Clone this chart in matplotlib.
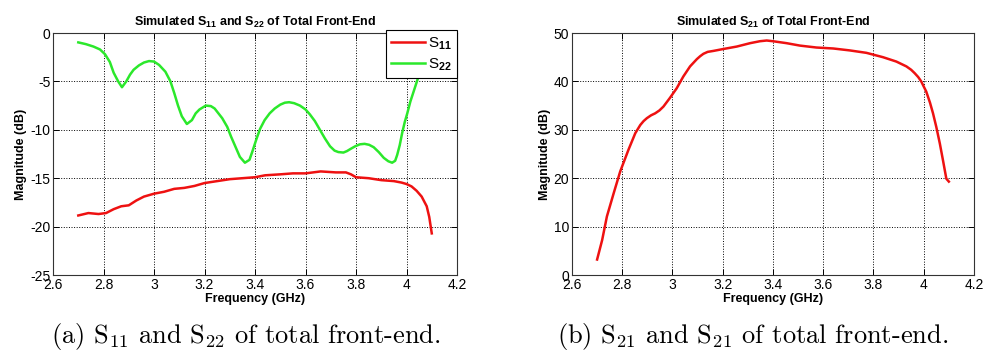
import numpy as np
import matplotlib
matplotlib.use("Agg")
import matplotlib.pyplot as plt
from matplotlib.ticker import FormatStrFormatter

plt.rcParams["font.family"] = ["Liberation Sans", "DejaVu Sans"]
plt.rcParams["axes.unicode_minus"] = False
plt.rcParams["mathtext.fontset"] = "custom"
plt.rcParams["mathtext.rm"] = "Liberation Sans:bold"
plt.rcParams["mathtext.it"] = "Liberation Sans:bold"
plt.rcParams["mathtext.bf"] = "Liberation Sans:bold"

# S11 (red, left panel)
f_s11 = [2.70, 2.74, 2.78, 2.81, 2.84, 2.87, 2.90, 2.93, 2.96, 3.00, 3.04, 3.08,
         3.12, 3.16, 3.20, 3.25, 3.30, 3.35, 3.40, 3.44, 3.50, 3.55, 3.60, 3.66,
         3.72, 3.76, 3.78, 3.80, 3.85, 3.90, 3.95, 3.98, 4.00, 4.02, 4.04, 4.06,
         4.08, 4.09, 4.10]
s11 = [-18.85, -18.6, -18.7, -18.6, -18.2, -17.9, -17.8, -17.3, -16.9, -16.6, -16.4, -16.1,
       -16.0, -15.8, -15.5, -15.3, -15.1, -15.0, -14.9, -14.7, -14.6, -14.5, -14.5, -14.3,
       -14.4, -14.4, -14.6, -14.9, -15.0, -15.2, -15.3, -15.45, -15.6, -15.85, -16.3, -16.9,
       -17.9, -19.0, -20.7]

# S22 (green, left panel)
f_s22 = [2.70, 2.73, 2.76, 2.786, 2.806, 2.825, 2.84, 2.858, 2.873, 2.89, 2.905, 2.919,
         2.94, 2.96, 2.98, 3.00, 3.02, 3.045, 3.065, 3.08, 3.095, 3.11, 3.13, 3.15,
         3.165, 3.18, 3.205, 3.225, 3.24, 3.27, 3.29, 3.305, 3.325, 3.34, 3.36, 3.378,
         3.39, 3.405, 3.42, 3.438, 3.458, 3.478, 3.50, 3.518, 3.535, 3.555, 3.578, 3.60,
         3.617, 3.637, 3.657, 3.677, 3.697, 3.715, 3.73, 3.75, 3.764, 3.78, 3.797,
         3.815, 3.834, 3.852, 3.87, 3.89, 3.91, 3.928, 3.943, 3.955, 3.963, 3.973,
         3.983, 3.993, 4.003, 4.015, 4.03, 4.05, 4.075, 4.10]
s22 = [-0.97, -1.15, -1.4, -1.7, -2.2, -3.0, -4.1, -5.0, -5.6, -5.0, -4.3, -3.8,
       -3.35, -3.05, -2.9, -2.95, -3.3, -4.0, -5.0, -6.2, -7.5, -8.6, -9.4, -9.0,
       -8.3, -7.9, -7.5, -7.55, -7.8, -8.8, -9.7, -10.7, -11.9, -12.8, -13.4, -13.1,
       -12.2, -11.0, -9.9, -9.0, -8.3, -7.8, -7.4, -7.2, -7.15, -7.25, -7.5, -7.9,
       -8.4, -9.1, -10.0, -10.9, -11.7, -12.15, -12.3, -12.35, -12.2, -11.95, -11.7,
       -11.5, -11.45, -11.55, -11.8, -12.3, -12.9, -13.25, -13.4, -13.2, -12.6, -11.6,
       -10.3, -9.2, -8.3, -7.1, -5.9, -4.3, -2.6, -1.2]

# S21 (red, right panel)
f_s21 = [2.70, 2.72, 2.739, 2.766, 2.792, 2.825, 2.852, 2.872, 2.885, 2.898, 2.915, 2.931,
         2.948, 2.964, 2.99, 3.017, 3.043, 3.07, 3.097, 3.11, 3.123, 3.14, 3.163, 3.203,
         3.256, 3.309, 3.348, 3.375, 3.40, 3.454, 3.507, 3.573, 3.64, 3.706, 3.772,
         3.838, 3.891, 3.931, 3.95, 3.964, 3.978, 3.99, 4.01, 4.025, 4.037, 4.05, 4.064,
         4.077, 4.09, 4.10]
s21 = [3.2, 7.2, 12.1, 16.9, 21.4, 25.9, 29.3, 31.0, 31.8, 32.4, 33.0, 33.4,
       34.0, 34.8, 36.6, 38.6, 41.0, 43.1, 44.6, 45.2, 45.7, 46.1, 46.3, 46.7,
       47.2, 47.9, 48.3, 48.45, 48.3, 47.9, 47.4, 47.0, 46.8, 46.4, 45.9,
       45.0, 44.1, 43.1, 42.4, 41.7, 40.9, 40.0, 37.9, 35.6, 33.4, 30.6, 27.2,
       23.6, 19.9, 19.3]

xticks = [2.6, 2.8, 3.0, 3.2, 3.4, 3.6, 3.8, 4.0, 4.2]
RED = "#ee1111"
GREEN = "#2be82b"


def style(ax, yticks):
    ax.set_xlim(2.6, 4.2)
    ax.set_xticks(xticks)
    ax.set_yticks(yticks)
    ax.set_ylim(yticks[0], yticks[-1])
    ax.xaxis.set_major_formatter(FormatStrFormatter("%g"))
    ax.grid(True, ls=":", color="k", lw=0.7)
    ax.tick_params(direction="in", top=True, right=True, length=4, width=0.7,
                   labelsize=10, pad=2)
    for s in ax.spines.values():
        s.set_linewidth(0.8)
        s.set_color("#333333")
    ax.set_xlabel("Frequency (GHz)", fontsize=9, fontweight="bold", labelpad=1)
    ax.set_ylabel("Magnitude (dB)", fontsize=9, fontweight="bold", labelpad=2)


fig = plt.figure(figsize=(9.86, 3.56), dpi=100)
ax1 = fig.add_axes([0.0538, 0.2275, 0.4097, 0.6798])
ax2 = fig.add_axes([0.5801, 0.2275, 0.4077, 0.6798])

ax1.plot(f_s11, s11, color=RED, lw=1.8, label="S$_{11}$")
ax1.plot(f_s22, s22, color=GREEN, lw=1.8, label="S$_{22}$")
style(ax1, [-25, -20, -15, -10, -5, 0])
ax1.set_title("Simulated S$_{11}$ and S$_{22}$ of Total Front-End",
              fontsize=9, fontweight="bold", pad=5)
leg = ax1.legend(loc="upper right", bbox_to_anchor=(1.0, 1.013), borderaxespad=0,
                 fontsize=11, handlelength=2.2, fancybox=False, framealpha=1,
                 edgecolor="k", borderpad=0.35, labelspacing=0.3, handletextpad=0.2)
leg.get_frame().set_linewidth(0.8)

ax2.plot(f_s21, s21, color=RED, lw=1.8)
style(ax2, [0, 10, 20, 30, 40, 50])
ax2.set_title("Simulated S$_{21}$ of Total Front-End", fontsize=9, fontweight="bold", pad=5)

fig.text(0.2495, 0.0365, "(a) S$_{11}$ and S$_{22}$ of total front-end.", ha="center",
         va="baseline", fontsize=19, family="cmr10", math_fontfamily="cm")
fig.text(0.763, 0.0365, "(b) S$_{21}$ and S$_{21}$ of total front-end.", ha="center",
         va="baseline", fontsize=19, family="cmr10", math_fontfamily="cm")

fig.savefig("out.png", dpi=100)
